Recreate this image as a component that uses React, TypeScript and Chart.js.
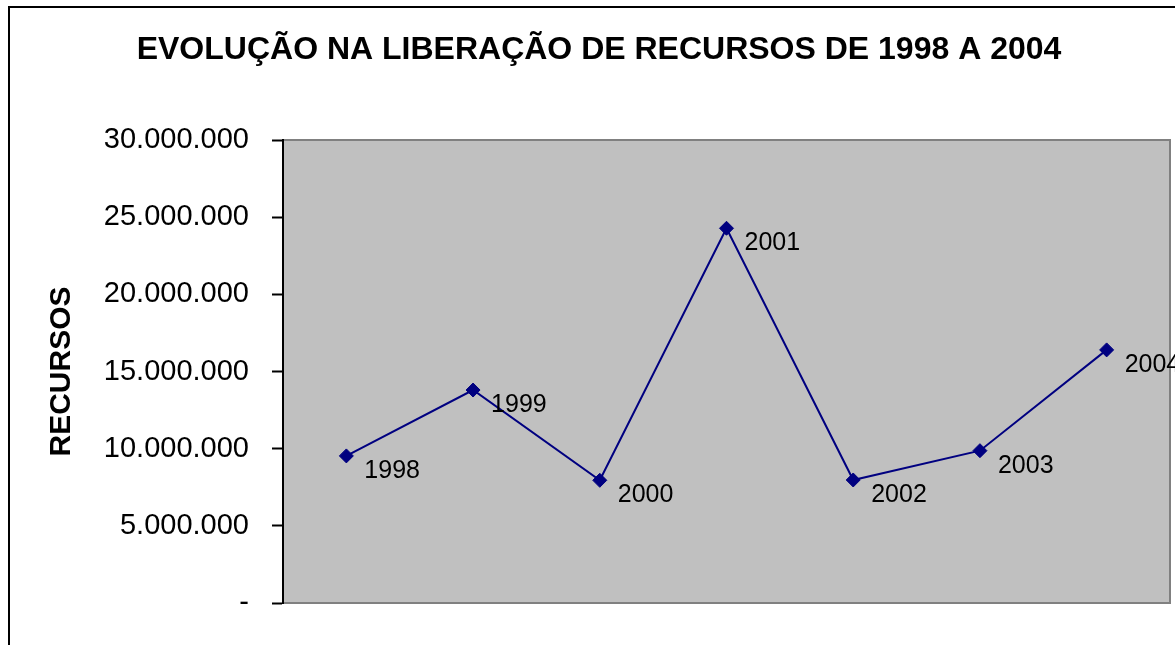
import React, { useEffect, useRef } from "react";
import { Chart, registerables } from "chart.js";

Chart.register(...registerables);

const categories = ["1998", "1999", "2000", "2001", "2002", "2003", "2004"];
const recursos = [9530000, 13800000, 7950000, 24280000, 7970000, 9870000, 16400000];
const yTickLabels = ["-", "5.000.000", "10.000.000", "15.000.000", "20.000.000", "25.000.000", "30.000.000"];
const chartTitle = "EVOLUÇÃO NA LIBERAÇÃO DE RECURSOS DE 1998 A 2004";
const yTitle = "RECURSOS";

const FONT = "'Liberation Sans', Arial, sans-serif";

const plotBgPlugin = {
  id: "plotBg",
  beforeDraw(chart: any) {
    const { ctx, chartArea: a } = chart;
    ctx.save();
    ctx.fillStyle = "#C0C0C0";
    ctx.fillRect(a.left, a.top, a.right - a.left, a.bottom - a.top);
    ctx.strokeStyle = "#808080";
    ctx.lineWidth = 2;
    ctx.beginPath();
    ctx.moveTo(a.left, a.top);
    ctx.lineTo(a.right, a.top);
    ctx.lineTo(a.right, a.bottom);
    ctx.lineTo(a.left, a.bottom);
    ctx.stroke();
    ctx.restore();
  },
};

const labelPlugin = {
  id: "pointLabels",
  afterDatasetsDraw(chart: any) {
    const { ctx } = chart;
    const meta = chart.getDatasetMeta(0);
    ctx.save();
    ctx.font = `25px ${FONT}`;
    ctx.fillStyle = "#000000";
    ctx.textAlign = "left";
    ctx.textBaseline = "middle";
    meta.data.forEach((pt: any, i: number) => {
      ctx.fillText(categories[i], pt.x + 18, pt.y + 15);
    });
    ctx.restore();
  },
};

export default function App() {
  const ref = useRef<HTMLCanvasElement | null>(null);

  useEffect(() => {
    if (!ref.current) return;
    const chart = new Chart(ref.current, {
      type: "line",
      data: {
        labels: categories,
        datasets: [
          {
            data: recursos,
            borderColor: "#000080",
            borderWidth: 2,
            backgroundColor: "#000080",
            pointStyle: "rectRot",
            pointRadius: 7,
            pointBorderWidth: 1,
            pointBorderColor: "#000080",
            pointBackgroundColor: "#000080",
            tension: 0,
            clip: false as any,
          },
        ],
      },
      options: {
        animation: false,
        responsive: false,
        devicePixelRatio: 1,
        layout: { padding: { left: 28, right: 29, top: 0, bottom: 42 } },
        plugins: {
          legend: { display: false },
          tooltip: { enabled: false },
          title: {
            display: true,
            text: chartTitle,
            color: "#000000",
            font: { family: FONT, size: 32, weight: "bold", lineHeight: 1.2 },
            padding: { top: 31, bottom: 70.6 },
          },
        },
        scales: {
          x: {
            type: "category",
            display: false,
            offset: true,
          },
          y: {
            min: 0,
            max: 30000000,
            afterFit(scale: any) {
              scale.width = 255;
            },
            border: { display: true, color: "#000000", width: 2 },
            grid: {
              display: true,
              drawOnChartArea: false,
              drawTicks: true,
              tickLength: 11,
              tickWidth: 2,
              tickColor: "#000000",
            },
            ticks: {
              stepSize: 5000000,
              padding: 23,
              color: "#000000",
              font: { family: FONT, size: 29 },
              callback: (v: any) => yTickLabels[Math.round(Number(v) / 5000000)],
            },
            title: {
              display: true,
              text: yTitle,
              color: "#000000",
              font: { family: FONT, size: 30, weight: "bold", lineHeight: 1.2 },
              padding: { top: 16, bottom: 0 },
            },
          },
        },
      },
      plugins: [plotBgPlugin, labelPlugin],
    });
    return () => chart.destroy();
  }, []);

  return (
    <div
      style={{
        position: "fixed",
        left: 0,
        top: 0,
        width: 1175,
        height: 645,
        overflow: "hidden",
        background: "#ffffff",
      }}
    >
      <div
        style={{
          position: "absolute",
          left: 8,
          top: 6,
          width: 1300,
          height: 800,
          border: "2px solid #000000",
          boxSizing: "border-box",
        }}
      />
      <canvas
        ref={ref}
        width={1199}
        height={645}
        style={{ position: "absolute", left: 0, top: 0, display: "block" }}
      />
    </div>
  );
}
